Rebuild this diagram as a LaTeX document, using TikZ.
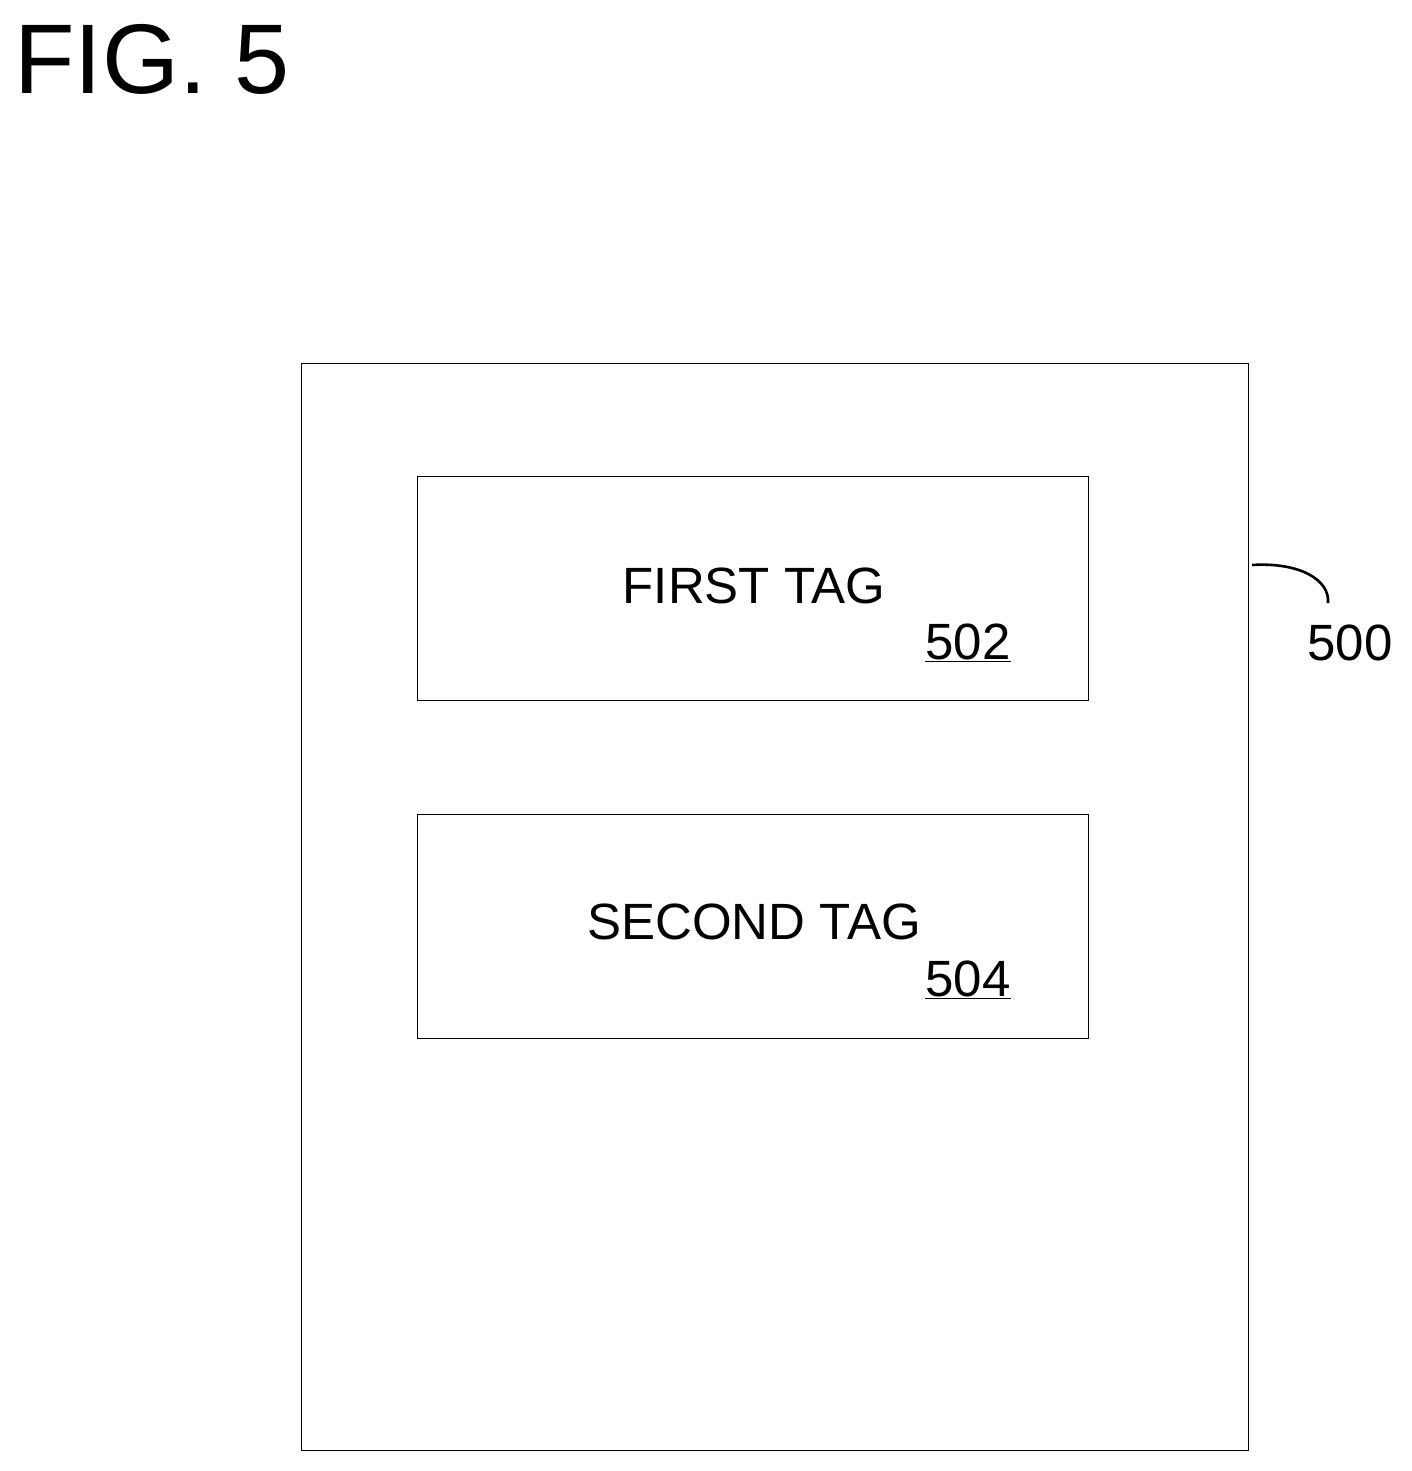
\documentclass[tikz,border=0pt]{standalone}
\usepackage{fontspec}
\setmainfont{Liberation Sans}
\begin{document}
\begin{tikzpicture}[x=1pt,y=-1pt,line width=1pt,
  box/.style={draw,inner sep=0pt},
  lbl/.style={font=\fontsize{51}{58}\selectfont,inner sep=0pt}]
\useasboundingbox (0,0) rectangle (1411,1471);
\node[inner sep=0pt,anchor=base west,font=\fontsize{99}{110}\selectfont] (fig) at (14,94) {FIG. 5};
\node[box,minimum width=947pt,minimum height=1087pt] (outer) at (774.5,906.5) {};
\node[box,minimum width=671pt,minimum height=224pt] (b1) at (752.5,588) {};
\node[box,minimum width=671pt,minimum height=224pt] (b2) at (752.5,926) {};
\node[lbl] (t1) at (754,586) {FIRST TAG};
\node[lbl] (n1) at (968,643) {\underline{502}};
\node[lbl] (t2) at (754,922) {SECOND TAG};
\node[lbl] (n2) at (968,980) {\underline{504}};
\node[lbl] (n500) at (1350,643) {500};
\coordinate (c1) at (1252,565);
\coordinate (c2) at (1328,603);
\draw[line width=2.6pt] (c1) .. controls (1300,562) and (1330,580) .. (c2);
\end{tikzpicture}
\end{document}
